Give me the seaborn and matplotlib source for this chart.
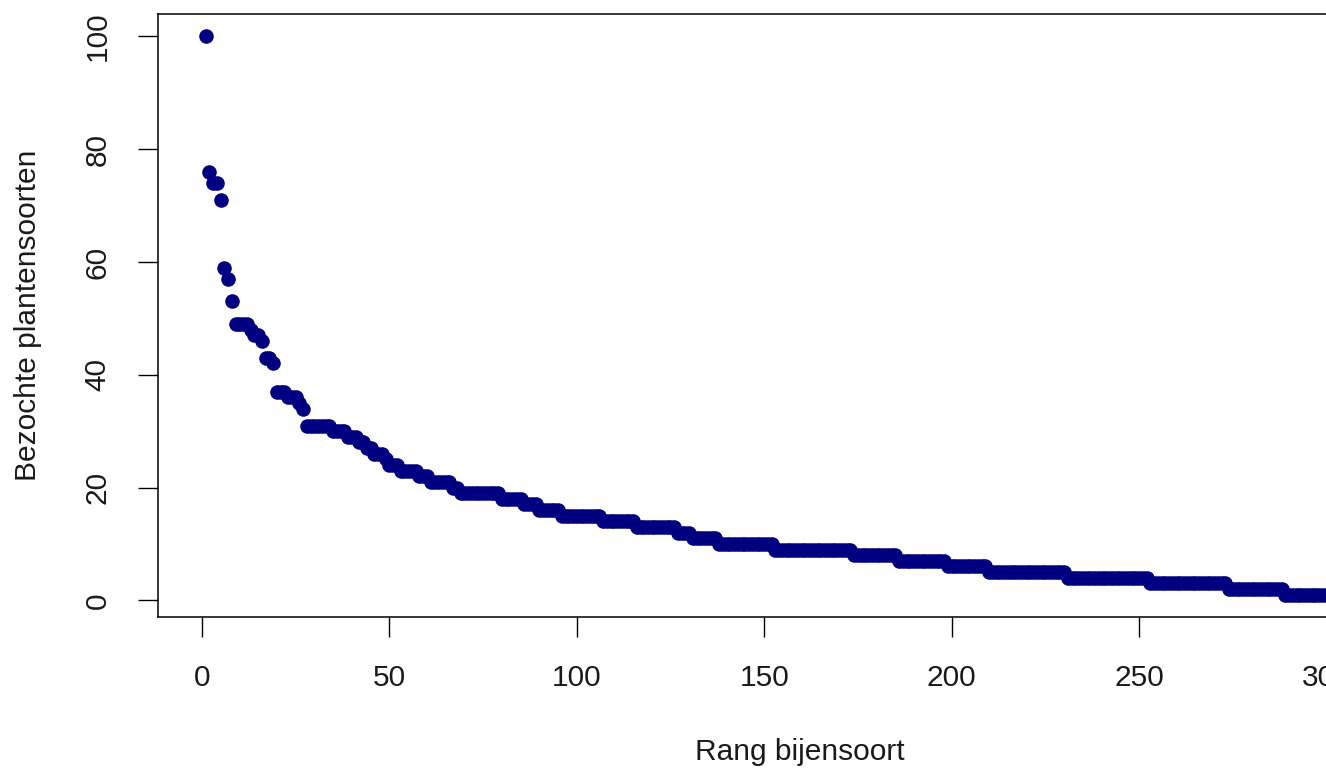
import numpy as np
import pandas as pd
import seaborn as sns
from matplotlib import pyplot as plt

# number of visited plant species per bee species, read as runs of equal values
levels = [100, 76, 74, 71, 59, 57, 53, 49, 48, 47, 46, 43, 42, 37, 36, 35, 34,
          31, 30, 29, 28, 27, 26, 25, 24, 23, 22, 21, 20, 19, 18, 17, 16, 15,
          14, 13, 12, 11, 10, 9, 8, 7, 6, 5, 4, 3, 2, 1]
counts = [1, 1, 2, 1, 1, 1, 1, 4, 1, 2, 1, 2, 1, 3, 3, 1, 1,
          7, 4, 3, 2, 2, 3, 1, 3, 5, 3, 6, 2, 11, 6, 4, 6, 11,
          9, 11, 4, 7, 15, 21, 12, 13, 11, 21, 22, 21, 15, 30]

planten = np.repeat(levels, counts)
rang = np.arange(1, len(planten) + 1)
df = pd.DataFrame({"rang": rang, "planten": planten})

x_ticks = [0, 50, 100, 150, 200, 250, 300]
y_ticks = [0, 20, 40, 60, 80, 100]

sns.set_style("ticks")
plt.rcParams['font.family'] = ['Liberation Sans', 'DejaVu Sans']

fig = plt.figure(figsize=(13.26, 7.71), dpi=100)
# axes runs past the right edge, like the cropped original
ax = fig.add_axes([0.1192, 0.1997, 0.968, 0.7821])

sns.scatterplot(data=df, x="rang", y="planten", color="#000080", s=110,
                linewidth=0, ax=ax, legend=False)

# R style 4% padding
n = len(planten)
pad_x = 0.04 * (n - 1)
pad_y = 0.04 * (max(planten) - min(planten))
ax.set_xlim(1 - pad_x, n + pad_x)
ax.set_ylim(min(planten) - pad_y, max(planten) + pad_y)

ax.set_xticks(x_ticks)
ax.set_yticks(y_ticks)
ax.set_yticklabels([str(v) for v in y_ticks], rotation=90, va="center")
ax.tick_params(axis="both", length=14.5, width=1, color="black",
               labelsize=21.5, pad=19, labelcolor="#1a1a1a")

for sp in ax.spines.values():
    sp.set_visible(True)
    sp.set_color("black")
    sp.set_linewidth(1.1)

ax.set_xlabel("Rang bijensoort", fontsize=21.5, color="#1a1a1a")
ax.set_ylabel("Bezochte plantensoorten", fontsize=21.5, color="#1a1a1a")
ax.xaxis.set_label_coords(0.5, -0.2)
ax.yaxis.set_label_coords(-0.0903, 0.5)

fig.savefig("out.png", dpi=100)
